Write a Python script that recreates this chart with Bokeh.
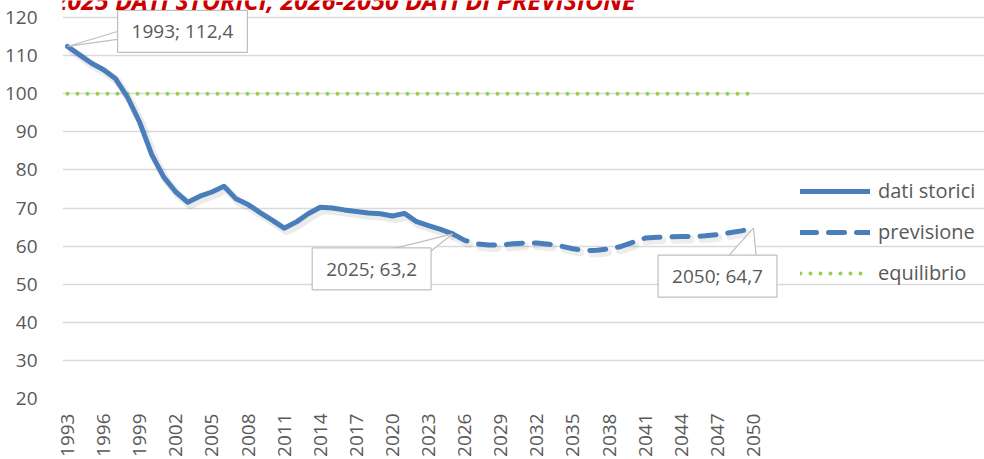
import math
from bokeh.plotting import figure
from bokeh.models import Range1d, FixedTicker, Legend, LegendItem, Label
from bokeh.embed import file_html
from bokeh.resources import INLINE

# ---- data ----
hist_years = list(range(1993, 2026))
hist_values = [112.4, 110.2, 108.0, 106.3, 103.9, 99.0, 92.5, 84.0, 78.1, 74.2,
               71.5, 73.1, 74.2, 75.7, 72.4, 70.9, 68.8, 66.8, 64.7, 66.3,
               68.5, 70.2, 70.0, 69.5, 69.1, 68.7, 68.5, 67.9, 68.6, 66.4,
               65.4, 64.4, 63.2]
fc_years = list(range(2025, 2051))
fc_values = [63.2, 61.5, 60.6, 60.3, 60.3, 60.6, 60.8, 60.8, 60.5, 60.0,
             59.3, 58.8, 58.9, 59.3, 59.9, 61.0, 62.1, 62.3, 62.4, 62.5,
             62.5, 62.7, 63.0, 63.5, 64.0, 64.7]
eq_years = [1993, 2050]
eq_values = [100, 100]
x_ticks = list(range(1993, 2051, 3))
y_ticks = list(range(20, 121, 10))
title_text = "1993-2025 DATI STORICI, 2026-2050 DATI DI PREVISIONE"
legend_labels = ["dati storici", "previsione", "equilibrio"]

# ---- layout (pixels) ----
W, H = 984, 459
FL, FT, FB = 62, 0, 61
FW, FH = W - FL, H - FT - FB
XS = 57 / 686.0          # years per pixel
YS = 100 / 381.0         # units per pixel
x0 = 1993 - 5 * XS
x1 = x0 + FW * XS
y0 = 20
y1 = 120 + 17 * YS
grid_end = x0 + 696 * XS

BLUE = "#4a7ebb"
GREEN = "#92d050"
GRID = "#d9d9d9"
TXT = "#595959"
FONT = "Open Sans"

p = figure(width=W, height=H, output_backend="svg", toolbar_location=None,
           x_range=Range1d(x0, x1), y_range=Range1d(y0, y1),
           min_border_left=FL, min_border_right=0, min_border_top=FT,
           min_border_bottom=FB)
p.outline_line_color = None
p.background_fill_color = "white"
p.border_fill_color = "white"

# axes
p.xaxis.ticker = FixedTicker(ticks=x_ticks)
p.yaxis.ticker = FixedTicker(ticks=y_ticks)
for ax in (p.xaxis[0], p.yaxis[0]):
    ax.axis_line_color = None
    ax.major_tick_line_color = None
    ax.minor_tick_line_color = None
    ax.major_label_text_font = FONT
    ax.major_label_text_font_size = "19px"
    ax.major_label_text_color = TXT
p.xaxis.major_label_orientation = math.pi / 2
p.xaxis.major_label_standoff = 9
p.yaxis.major_label_standoff = 19
p.xgrid.grid_line_color = None
p.ygrid.grid_line_color = GRID
p.ygrid.grid_line_width = 1.3
p.ygrid.ticker = FixedTicker(ticks=y_ticks)
p.ygrid.bounds = (x0, grid_end)

# soft shadow of the blue lines
sh_dx, sh_dy = 2.5 * XS, 3.0 * YS
p.line([x + sh_dx for x in hist_years], [v - sh_dy for v in hist_values],
       line_color="#000000", line_alpha=0.08, line_width=8, line_join="round")
p.line([x + sh_dx for x in fc_years], [v - sh_dy for v in fc_values],
       line_color="#000000", line_alpha=0.07, line_width=8,
       line_dash="16 12", line_cap="round")

r_eq = p.line(eq_years, eq_values, line_color=GREEN, line_width=4,
              line_dash="0 10", line_cap="round")
r_fc = p.line(fc_years, fc_values, line_color=BLUE, line_width=5,
              line_dash="16 12", line_cap="round", line_join="round")
r_hist = p.line(hist_years, hist_values, line_color=BLUE, line_width=5,
                line_join="round", line_cap="round")

# ---- callouts ----
def fmt(y, v):
    return f"{y}; {v:.1f}".replace(".", ",")

callouts = [
    # anchor, text, box centre offset (px, y down), wedge base points relative to centre
    (hist_years[0], hist_values[0], fmt(hist_years[0], hist_values[0]),
     (115, -15), [(-65, 0), (-65, 8)]),
    (hist_years[-1], hist_values[-1], fmt(hist_years[-1], hist_values[-1]),
     (-81, 35), [(9, -17), (58, -17)]),
    (fc_years[-1], fc_values[-1], fmt(fc_years[-1], fc_values[-1]),
     (-36, 48), [(8, -17), (39, -17)]),
]
wx, wy = [], []
for ax_, ay_, txt, (cx, cy), base in callouts:
    xs = [ax_]
    ys = [ay_]
    for bx, by in base:
        xs.append(ax_ + (cx + bx) * XS)
        ys.append(ay_ - (cy + by) * YS)
    wx.append(xs)
    wy.append(ys)
p.patches(wx, wy, fill_color="white", line_color="#bfbfbf", line_width=1.2)

for ax_, ay_, txt, (cx, cy), base in callouts:
    p.add_layout(Label(x=ax_, y=ay_, x_offset=cx, y_offset=-cy, text=txt,
                       text_align="center", text_baseline="middle",
                       text_font=FONT, text_font_size="19px", text_color=TXT,
                       background_fill_color="white",
                       border_line_color="#bfbfbf", border_line_width=1.2,
                       padding=dict(left=14, right=14, top=8, bottom=8)))

# title (clipped at the top, as in the original)
p.add_layout(Label(x=x0 - 72 * XS, y=120 + 18 * YS, text=title_text,
                   text_align="left", text_baseline="alphabetic",
                   text_font=FONT, text_font_size="25px",
                   text_font_style="bold italic", text_color="#cc0000"))

# ---- legend ----
legend = Legend(items=[LegendItem(label=legend_labels[0], renderers=[r_hist]),
                       LegendItem(label=legend_labels[1], renderers=[r_fc]),
                       LegendItem(label=legend_labels[2], renderers=[r_eq])],
                location=(738, 112), orientation="vertical",
                glyph_width=70, glyph_height=20, label_height=20,
                label_standoff=8, spacing=14, padding=0, margin=0,
                border_line_color=None, background_fill_alpha=0,
                label_text_font=FONT, label_text_font_size="20px",
                label_text_color=TXT)
p.add_layout(legend, "center")

open("out.html", "w").write(file_html(p, INLINE))
